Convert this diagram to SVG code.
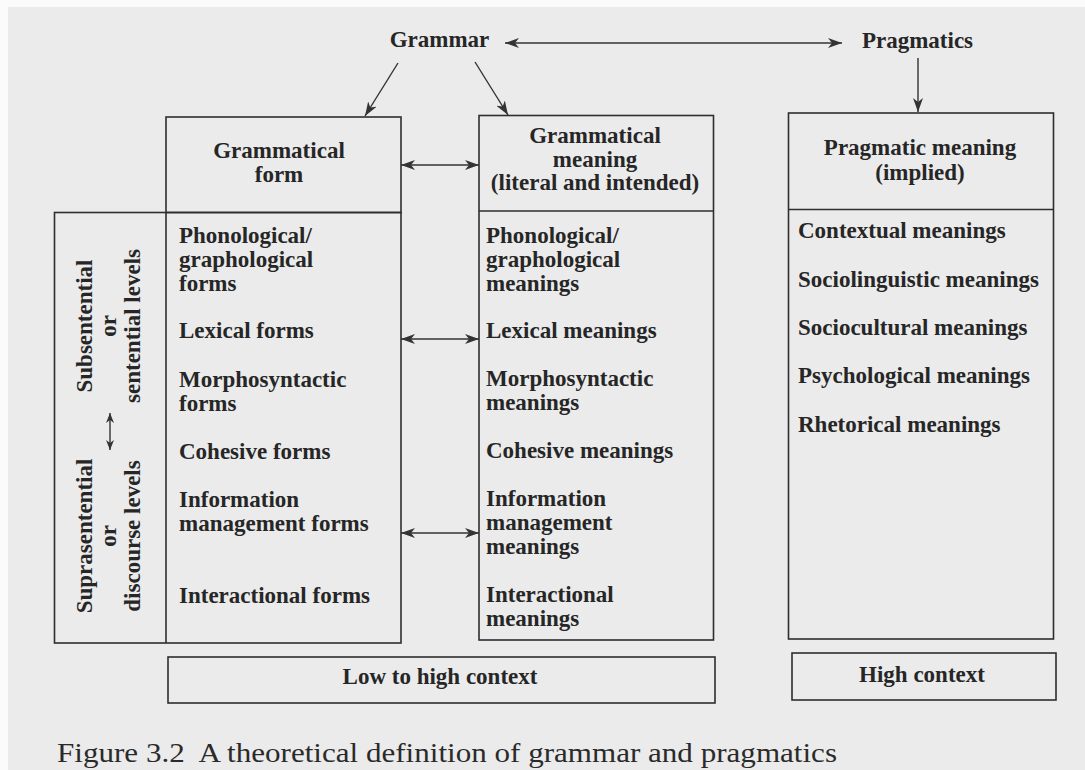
<svg xmlns="http://www.w3.org/2000/svg" width="1085" height="770" viewBox="0 0 1085 770">
<style>
.t{font-family:"Liberation Serif","Times New Roman",serif;font-weight:bold;font-size:23px;fill:#262626}
.c{text-anchor:middle}
.box{fill:none;stroke:#2e2e2e;stroke-width:1.6}
.ln{fill:none;stroke:#2e2e2e;stroke-width:1.6}
.ar{fill:none;stroke:#333;stroke-width:1.4}
.cap{font-family:"Liberation Serif","Times New Roman",serif;font-size:28px;fill:#2a2a2a}
</style>
<defs>
<marker id="ah" viewBox="0 0 14 10" refX="14" refY="5" markerWidth="14" markerHeight="10" markerUnits="userSpaceOnUse" orient="auto-start-reverse">
<path d="M0,0 L14,5 L0,10 L4,5 Z" fill="#333"/>
</marker>
<marker id="ahs" viewBox="0 0 10 8" refX="10" refY="4" markerWidth="10" markerHeight="8" markerUnits="userSpaceOnUse" orient="auto-start-reverse">
<path d="M0,0 L10,4 L0,8 L3,4 Z" fill="#333"/>
</marker>
</defs>
<rect x="0" y="0" width="1085" height="770" fill="#fbfbfb"/>
<rect x="8" y="7" width="1077" height="763" fill="#ebebeb"/>

<g id="grammar"><text class="t c" x="439.5" y="47">Grammar</text></g>
<g id="pragmatics"><text class="t c" x="917.5" y="48">Pragmatics</text></g>

<g id="grammatical-form-header">
<rect class="box" x="166" y="117" width="235" height="95.5"/>
<text class="t c" x="279" y="158">Grammatical</text>
<text class="t c" x="279" y="182">form</text>
</g>

<g id="levels">
<rect class="box" x="54.5" y="212.5" width="346.5" height="430.5"/>
<line class="ln" x1="166" y1="212.5" x2="166" y2="643"/>
<g transform="translate(0,326) rotate(-90)">
<text class="t c" x="0" y="92">Subsentential</text>
<text class="t c" x="0" y="116">or</text>
<text class="t c" x="0" y="140">sentential levels</text>
</g>
<g transform="translate(0,536) rotate(-90)">
<text class="t c" x="0" y="92">Suprasentential</text>
<text class="t c" x="0" y="116">or</text>
<text class="t c" x="0" y="140">discourse levels</text>
</g>
</g>

<g id="forms">
<text class="t" x="179" y="243">Phonological/</text>
<text class="t" x="179" y="267">graphological</text>
<text class="t" x="179" y="291">forms</text>
<text class="t" x="179" y="338">Lexical forms</text>
<text class="t" x="179" y="387">Morphosyntactic</text>
<text class="t" x="179" y="411">forms</text>
<text class="t" x="179" y="459">Cohesive forms</text>
<text class="t" x="179" y="507">Information</text>
<text class="t" x="179" y="531">management forms</text>
<text class="t" x="179" y="603">Interactional forms</text>
</g>

<g id="grammatical-meaning">
<rect class="box" x="479" y="115.5" width="234.5" height="524.5"/>
<line class="ln" x1="479" y1="211" x2="713.5" y2="211"/>
<text class="t c" x="595" y="143">Grammatical</text>
<text class="t c" x="595" y="166.5">meaning</text>
<text class="t c" x="595" y="190">(literal and intended)</text>
<text class="t" x="486" y="243">Phonological/</text>
<text class="t" x="486" y="267">graphological</text>
<text class="t" x="486" y="291">meanings</text>
<text class="t" x="486" y="338">Lexical meanings</text>
<text class="t" x="486" y="386">Morphosyntactic</text>
<text class="t" x="486" y="410">meanings</text>
<text class="t" x="486" y="458">Cohesive meanings</text>
<text class="t" x="486" y="506">Information</text>
<text class="t" x="486" y="530">management</text>
<text class="t" x="486" y="554">meanings</text>
<text class="t" x="486" y="602">Interactional</text>
<text class="t" x="486" y="626">meanings</text>
</g>

<g id="pragmatic-meaning">
<rect class="box" x="788.5" y="113" width="265" height="526"/>
<line class="ln" x1="788.5" y1="209.5" x2="1053.5" y2="209.5"/>
<text class="t c" x="920" y="155">Pragmatic meaning</text>
<text class="t c" x="920" y="180">(implied)</text>
<text class="t" x="798" y="238">Contextual meanings</text>
<text class="t" x="798" y="287">Sociolinguistic meanings</text>
<text class="t" x="798" y="335">Sociocultural meanings</text>
<text class="t" x="798" y="383">Psychological meanings</text>
<text class="t" x="798" y="432">Rhetorical meanings</text>
</g>

<g id="low-to-high-context">
<rect class="box" x="168" y="657" width="547" height="46"/>
<text class="t c" x="440" y="684">Low to high context</text>
</g>

<g id="high-context">
<rect class="box" x="792" y="653" width="264" height="47"/>
<text class="t c" x="922" y="682">High context</text>
</g>

<g id="connectors">
<line class="ar" x1="505" y1="43" x2="842" y2="43" marker-start="url(#ah)" marker-end="url(#ah)"/>
<line class="ar" x1="398" y1="63" x2="365" y2="116" marker-end="url(#ah)"/>
<line class="ar" x1="475" y1="62" x2="508" y2="115" marker-end="url(#ah)"/>
<line class="ar" x1="918" y1="58" x2="918" y2="112" marker-end="url(#ah)"/>
<line class="ar" x1="401" y1="165" x2="479" y2="165" marker-start="url(#ah)" marker-end="url(#ah)"/>
<line class="ar" x1="401" y1="339" x2="479" y2="339" marker-start="url(#ah)" marker-end="url(#ah)"/>
<line class="ar" x1="401" y1="533" x2="479" y2="533" marker-start="url(#ah)" marker-end="url(#ah)"/>
<line class="ar" x1="110" y1="413" x2="110" y2="450" marker-start="url(#ahs)" marker-end="url(#ahs)"/>
</g>

<text class="cap" x="57" y="762" textLength="780" lengthAdjust="spacingAndGlyphs">Figure 3.2&#160; A theoretical definition of grammar and pragmatics</text>
</svg>
